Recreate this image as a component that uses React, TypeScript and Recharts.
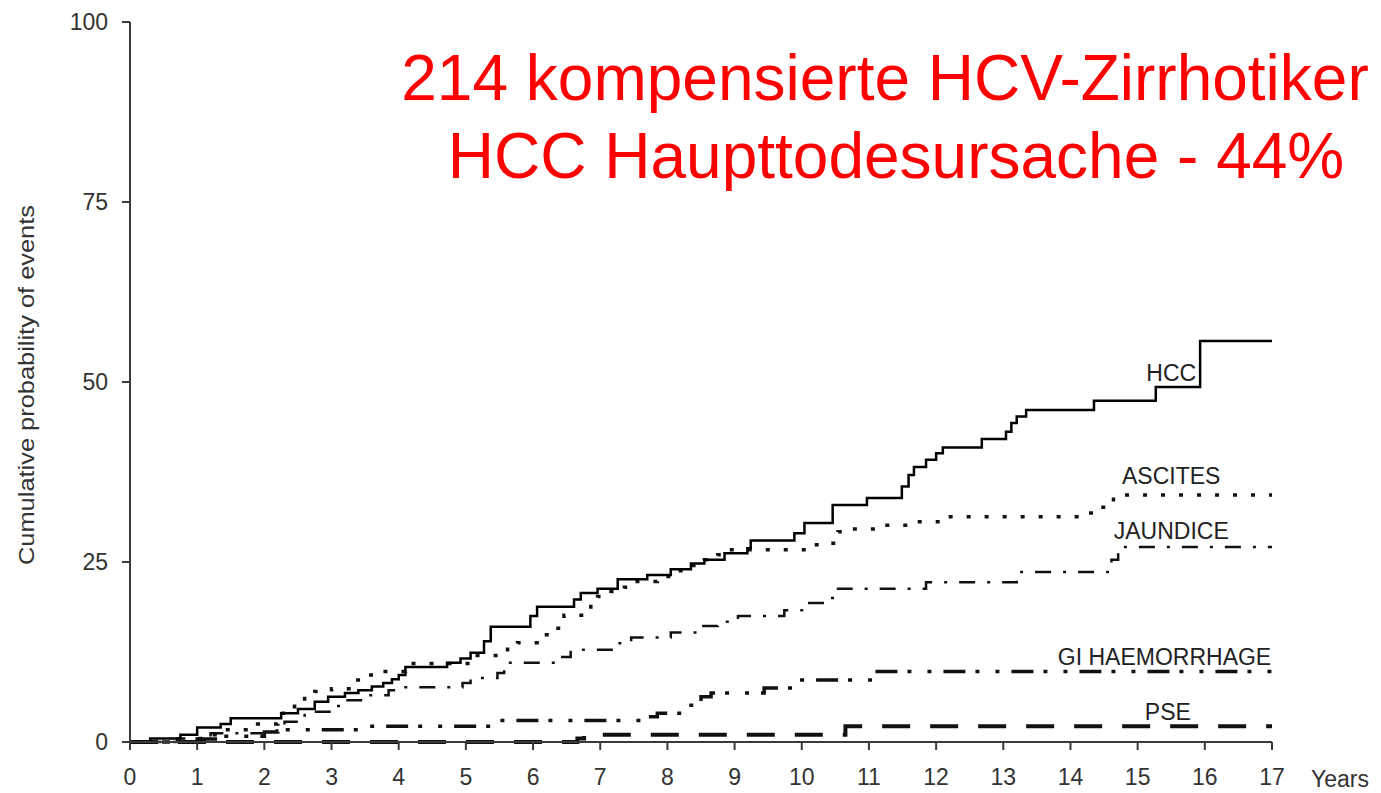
import React from 'react';
import { LineChart, Line, XAxis, YAxis, ReferenceDot } from 'recharts';

const xTicks = [0, 1, 2, 3, 4, 5, 6, 7, 8, 9, 10, 11, 12, 13, 14, 15, 16, 17];
const yTicks = [0, 25, 50, 75, 100];

const hccT = [0, 0.3, 0.75, 1.0, 1.35, 1.5, 2.25, 2.5, 2.75, 2.95, 3.2, 3.4, 3.6, 3.77, 3.9, 4.0, 4.1, 4.72, 4.92, 5.07, 5.27, 5.37, 5.96, 6.06, 6.61, 6.71, 6.96, 7.26, 7.7, 8.05, 8.35, 8.55, 8.85, 9.19, 9.24, 9.89, 10.04, 10.46, 10.97, 11.49, 11.59, 11.67, 11.85, 12.0, 12.1, 12.68, 13.04, 13.12, 13.2, 13.34, 14.35, 15.27, 15.93, 17];
const hccV = [0, 0.5, 1, 2, 2.5, 3.3, 4, 4.6, 5.6, 6.3, 6.8, 7.2, 7.7, 8.2, 8.7, 9.3, 10.4, 11, 11.6, 12.4, 14, 16, 17.5, 18.8, 19.8, 20.7, 21.3, 22.6, 23.2, 24, 24.8, 25.3, 26.2, 26.9, 28, 29, 30.4, 32.9, 33.9, 35.5, 37.1, 38.2, 39.2, 40.1, 40.9, 42.1, 43.1, 44.3, 45.2, 46.1, 47.4, 49.3, 55.7, 55.7];

const ascT = [0, 0.9, 1.15, 1.4, 1.9, 2.2, 2.35, 2.45, 2.6, 2.75, 3.0, 3.3, 3.5, 3.7, 4.1, 5.17, 5.62, 5.77, 6.06, 6.26, 6.41, 6.46, 6.86, 6.96, 7.16, 7.36, 7.55, 7.85, 8.05, 8.35, 8.55, 8.75, 8.9, 10.14, 10.39, 10.54, 10.7, 11.19, 11.6, 12.08, 14.18, 14.31, 14.64, 17];
const ascV = [0, 0.5, 1.0, 1.7, 2.5, 4, 4.9, 5.6, 6.5, 7.0, 7.4, 8.6, 9.3, 9.8, 10.9, 12, 13.5, 13.8, 14.9, 15.8, 16.7, 17.6, 19.3, 20.2, 20.9, 21.5, 22.3, 23, 23.8, 24.5, 25.3, 26, 26.7, 27.4, 27.6, 29.2, 29.6, 30.1, 30.6, 31.3, 31.8, 32.6, 34.3, 34.3];

const jauT = [0, 0.7, 1.2, 2.0, 2.3, 2.6, 3.0, 3.2, 3.5, 3.85, 3.95, 4.95, 5.07, 5.47, 5.57, 6.36, 6.56, 7.26, 7.46, 8.05, 8.45, 8.75, 9.05, 9.74, 10.04, 10.34, 10.54, 11.85, 13.2, 14.61, 14.71, 17];
const jauV = [0, 0.5, 1.2, 1.6, 2.8, 4.2, 5.0, 5.8, 6.5, 7.2, 7.6, 8.2, 8.9, 9.6, 11, 11.8, 12.8, 13.7, 14.5, 15.2, 16.1, 16.7, 17.5, 18.3, 19.3, 20, 21.3, 22.2, 23.6, 25.3, 27.1, 27.1];

const giT = [0, 1.0, 1.4, 2.0, 2.2, 3.5, 5.37, 7.75, 7.85, 8.25, 8.5, 8.65, 9.44, 9.94, 11.02, 17];
const giV = [0, 0.4, 0.8, 1.4, 1.7, 2.2, 3.0, 3.5, 4.0, 5.1, 6.3, 6.8, 7.5, 8.6, 9.8, 9.8];

const pseT = [0, 6.66, 6.76, 10.65, 17];
const pseV = [0, 0.5, 1.0, 2.2, 2.2];

const seriesLabels = ['HCC', 'ASCITES', 'JAUNDICE', 'GI HAEMORRHAGE', 'PSE'];
const labelX = [15.5, 15.5, 15.5, 15.4, 15.45];
const labelY = [51.3, 36.9, 29.3, 11.8, 4.2];

const titleLines = ['214 kompensierte HCV-Zirrhotiker', 'HCC Haupttodesursache - 44%'];
const yLabel = 'Cumulative probability of events';
const xUnit = 'Years';

const zip = (t: number[], v: number[]) => t.map((x, i) => ({ t: x, v: v[i] }));

const hccData = zip(hccT, hccV);
const ascData = zip(ascT, ascV);
const jauData = zip(jauT, jauV);
const giData = zip(giT, giV);
const pseData = zip(pseT, pseV);

const FONT = '"Liberation Sans", Arial, sans-serif';
const AX = '#3a3a3a';

export default function App() {
  return (
    <div style={{ position: 'absolute', left: 0, top: 0, width: 1381, height: 793, background: '#fff' }}>
      <LineChart width={1381} height={793} margin={{ top: 22, right: 109, left: 0, bottom: 0 }}>
        <XAxis
          dataKey="t"
          type="number"
          domain={[0, 17]}
          ticks={xTicks}
          allowDataOverflow
          height={51}
          stroke={AX}
          strokeWidth={2}
          tickSize={8}
          tickMargin={19}
          tick={{ fill: '#333', fontSize: 23, fontFamily: FONT }}
          tickLine={{ stroke: AX, strokeWidth: 2 }}
        />
        <YAxis
          type="number"
          domain={[0, 100]}
          ticks={yTicks}
          width={130}
          stroke={AX}
          strokeWidth={2}
          tickSize={8}
          tickMargin={14}
          tick={{ fill: '#333', fontSize: 23, fontFamily: FONT }}
          tickLine={{ stroke: AX, strokeWidth: 2 }}
        />
        <Line data={pseData} dataKey="v" type="stepAfter" stroke="#111" strokeWidth={4} strokeDasharray="28 20" dot={false} isAnimationActive={false} />
        <Line data={giData} dataKey="v" type="stepAfter" stroke="#111" strokeWidth={3.5} strokeDasharray="22 10 4 16 4 12" dot={false} isAnimationActive={false} />
        <Line data={jauData} dataKey="v" type="stepAfter" stroke="#111" strokeWidth={2.5} strokeDasharray="16 12 3 12" dot={false} isAnimationActive={false} />
        <Line data={ascData} dataKey="v" type="stepAfter" stroke="#111" strokeWidth={3.5} strokeDasharray="4 14" dot={false} isAnimationActive={false} />
        <Line data={hccData} dataKey="v" type="stepAfter" stroke="#000" strokeWidth={2.5} dot={false} isAnimationActive={false} />
        {seriesLabels.map((s, i) => (
          <ReferenceDot
            key={s}
            x={labelX[i]}
            y={labelY[i]}
            r={0}
            fill="none"
            stroke="none"
            label={{ value: s, position: 'center', fill: '#222', fontSize: 23, fontFamily: FONT }}
          />
        ))}
      </LineChart>
      <svg width={1381} height={793} style={{ position: 'absolute', left: 0, top: 0, pointerEvents: 'none' }}>
        <text x={885} y={100} textAnchor="middle" fill="#ff0000" fontSize={64} fontFamily={FONT}>{titleLines[0]}</text>
        <text x={896} y={178} textAnchor="middle" fill="#ff0000" fontSize={64} fontFamily={FONT}>{titleLines[1]}</text>
        <text x={0} y={0} transform="translate(34,385) rotate(-90)" textAnchor="middle" fill="#333" fontSize={22} fontFamily={FONT} textLength={360} lengthAdjust="spacingAndGlyphs">{yLabel}</text>
        <text x={1340} y={787} textAnchor="middle" fill="#333" fontSize={23} fontFamily={FONT}>{xUnit}</text>
      </svg>
    </div>
  );
}
